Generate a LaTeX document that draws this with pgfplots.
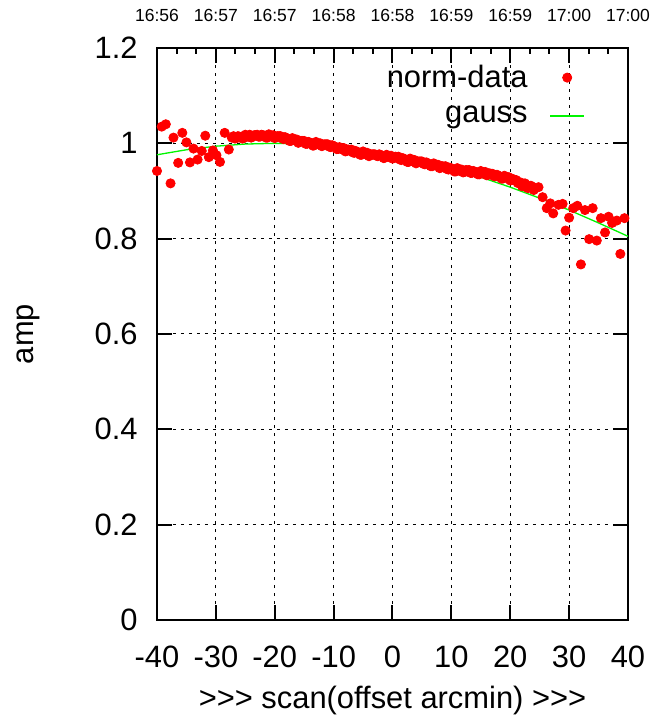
\documentclass[border=0pt]{standalone}
\usepackage{fontspec}
\setmainfont{Liberation Sans}
\usepackage{pgfplots}
\usepackage{pgfplotstable}
\pgfplotsset{compat=1.18}
\usetikzlibrary{calc}
\newcommand\fs{\fontsize{15.5}{18}\selectfont}
\newcommand\fsmall{\fontsize{8.8}{10}\selectfont}
\definecolor{gred}{RGB}{255,0,0}
\definecolor{ggreen}{RGB}{0,245,0}
\pgfplotstableread{
x y
-40.0 0.942
-39.2 1.035
-38.5 1.040
-37.7 0.916
-37.2 1.012
-36.4 0.959
-35.7 1.022
-35.0 1.002
-34.4 0.960
-33.8 0.989
-33.1 0.966
-32.4 0.984
-31.8 1.016
-31.2 0.971
-30.5 0.985
-29.9 0.975
-29.3 0.961
-28.5 1.022
-27.8 0.987
-27.3 1.012
-27.0 1.015
-26.75 1.010
-26.5 1.011
-26.25 1.015
-26.0 1.014
-25.75 1.013
-25.5 1.010
-25.25 1.011
-25.0 1.018
-24.75 1.015
-24.5 1.014
-24.25 1.018
-24.0 1.012
-23.75 1.014
-23.5 1.017
-23.25 1.017
-23.0 1.018
-22.75 1.014
-22.5 1.014
-22.25 1.018
-22.0 1.017
-21.75 1.016
-21.5 1.012
-21.25 1.012
-21.0 1.019
-20.75 1.016
-20.5 1.015
-20.25 1.017
-20.0 1.011
-19.75 1.013
-19.5 1.015
-19.25 1.015
-19.0 1.015
-18.75 1.010
-18.5 1.009
-18.25 1.013
-18.0 1.011
-17.75 1.009
-17.5 1.005
-17.25 1.005
-17.0 1.011
-16.75 1.007
-16.5 1.006
-16.25 1.008
-16.0 1.001
-15.75 1.003
-15.5 1.005
-15.25 1.005
-15.0 1.005
-14.75 0.999
-14.5 0.999
-14.25 1.003
-14.0 1.001
-13.75 1.000
-13.5 0.995
-13.25 0.996
-13.0 1.003
-12.75 0.999
-12.5 0.998
-12.25 1.000
-12.0 0.994
-11.75 0.996
-11.5 0.998
-11.25 0.998
-11.0 0.998
-10.75 0.993
-10.5 0.992
-10.25 0.996
-10.0 0.994
-9.75 0.993
-9.5 0.988
-9.25 0.988
-9.0 0.992
-8.75 0.989
-8.5 0.987
-8.25 0.990
-8.0 0.983
-7.75 0.984
-7.5 0.987
-7.25 0.986
-7.0 0.987
-6.75 0.981
-6.5 0.980
-6.25 0.984
-6.0 0.982
-5.75 0.980
-5.5 0.976
-5.25 0.976
-5.0 0.983
-4.75 0.979
-4.5 0.977
-4.25 0.980
-4.0 0.973
-3.75 0.975
-3.5 0.977
-3.25 0.977
-3.0 0.977
-2.75 0.974
-2.5 0.973
-2.25 0.977
-2.0 0.975
-1.75 0.974
-1.5 0.969
-1.25 0.970
-1.0 0.976
-0.75 0.973
-0.5 0.971
-0.25 0.974
0.0 0.968
0.25 0.969
0.5 0.972
0.75 0.971
1.0 0.972
1.25 0.966
1.5 0.965
1.75 0.969
2.0 0.967
2.25 0.965
2.5 0.961
2.75 0.961
3.0 0.968
3.25 0.964
3.5 0.962
3.75 0.965
4.0 0.958
4.25 0.960
4.5 0.962
4.75 0.962
5.0 0.962
5.25 0.957
5.5 0.956
5.75 0.960
6.0 0.958
6.25 0.956
6.5 0.952
6.75 0.952
7.0 0.958
7.25 0.954
7.5 0.953
7.75 0.955
8.0 0.948
8.25 0.949
8.5 0.952
8.75 0.951
9.0 0.952
9.25 0.946
9.5 0.945
9.75 0.949
10.0 0.947
10.25 0.945
10.5 0.941
10.75 0.941
11.0 0.948
11.25 0.944
11.5 0.942
11.75 0.945
12.0 0.939
12.25 0.940
12.5 0.944
12.75 0.943
13.0 0.944
13.25 0.938
13.5 0.938
13.75 0.942
14.0 0.940
14.25 0.938
14.5 0.935
14.75 0.935
15.0 0.942
15.25 0.938
15.5 0.936
15.75 0.940
16.0 0.933
16.25 0.934
16.5 0.937
16.75 0.936
17.0 0.936
17.25 0.931
17.5 0.931
17.75 0.934
18.0 0.932
18.25 0.930
18.5 0.926
18.75 0.926
19.0 0.932
19.25 0.929
19.5 0.927
19.75 0.929
20.0 0.922
20.25 0.923
20.5 0.925
20.75 0.923
21.0 0.923
21.25 0.917
21.5 0.916
21.75 0.918
22.0 0.910
22.25 0.914
22.5 0.916
22.75 0.908
23.0 0.906
23.25 0.910
23.5 0.911
23.75 0.909
24.0 0.902
24.8 0.908
25.5 0.887
26.2 0.864
26.8 0.874
27.3 0.853
28.2 0.871
28.9 0.873
29.4 0.817
30.0 0.844
30.7 0.864
31.4 0.869
32.0 0.746
32.7 0.860
33.4 0.799
34.0 0.864
34.7 0.796
35.4 0.843
36.1 0.813
36.7 0.846
37.3 0.833
38.1 0.838
38.7 0.768
39.4 0.843
}\normdata
\pgfplotstableread{
x y
-40 0.976
-35 0.9865
-30 0.994
-25 0.9985
-20 1.000
-15 0.9985
-10 0.994
-5 0.9865
0 0.976
5 0.963
10 0.947
15 0.929
20 0.908
25 0.885
30 0.860
35 0.833
40 0.805
}\gaussdata
\begin{document}
\begin{tikzpicture}
\begin{axis}[
  scale only axis, width=235.5bp, height=286bp,
  xmin=-40, xmax=40, ymin=0, ymax=1.2,
  clip=false,
  xtick={-40,-30,-20,-10,0,10,20,30,40},
  xticklabels={-40,-30,-20,-10,0,10,20,30,40},
  ytick={0,0.2,0.4,0.6,0.8,1,1.2},
  yticklabels={0,0.2,0.4,0.6,0.8,1,1.2},
  tick align=inside, major tick length=7.5bp,
  tick style={black, line width=1bp},
  axis line style={black, line width=1bp},
  grid=major,
  major grid style={black, line width=0.5bp, dash pattern=on 1.5bp off 2.5bp},
  ticklabel style={font=\fs, inner sep=0pt},
  xticklabel shift=13bp, yticklabel shift=9.5bp,
  xlabel={>{}>{}> scan(offset arcmin) >{}>{}>},
  xlabel style={font=\fs, at={(axis description cs:0.5,-0.14)}, anchor=center},
  ylabel={amp},
  ylabel style={font=\fs, at={(axis description cs:-0.272,0.5)}, anchor=center},
  legend style={draw=none, fill=none, font=\fs, at={(rel axis cs:0.922,0.985)}, anchor=north east, row sep=4bp, column sep=9bp},
  legend cell align=right, legend plot pos=right,
]
\coordinate (SW) at (rel axis cs:0,0);
\coordinate (NE) at (rel axis cs:1,1);
\addplot[only marks, mark=*, mark size=2.3bp, color=gred] table[x=x,y=y] {\normdata};
\addlegendentry{norm-data}
\addplot[ggreen, line width=0.65bp, mark=none] table[x=x,y=y] {\gaussdata};
\addlegendentry{gauss}
\end{axis}
\begin{axis}[
  scale only axis, width=235.5bp, height=286bp,
  xmin=-40, xmax=40, ymin=0, ymax=1.2,
  axis x line*=top, axis y line=none,
  xtick={-40,-30,-20,-10,0,10,20,30,40},
  xticklabels={16:56,16:57,16:57,16:58,16:58,16:59,16:59,17:00,17:00},
  minor x tick num=2,
  tick align=inside, major tick length=6bp, minor tick length=3bp,
  tick style={black, line width=1bp},
  axis line style={black, line width=1bp},
  xticklabel style={font=\fsmall, inner sep=0pt},
  xticklabel shift=13bp,
]
\end{axis}
\pgfresetboundingbox
\path[use as bounding box] ($(SW)+(-78.5bp,-50.5bp)$) rectangle ($(NE)+(15bp,24bp)$);
\end{tikzpicture}
\end{document}
